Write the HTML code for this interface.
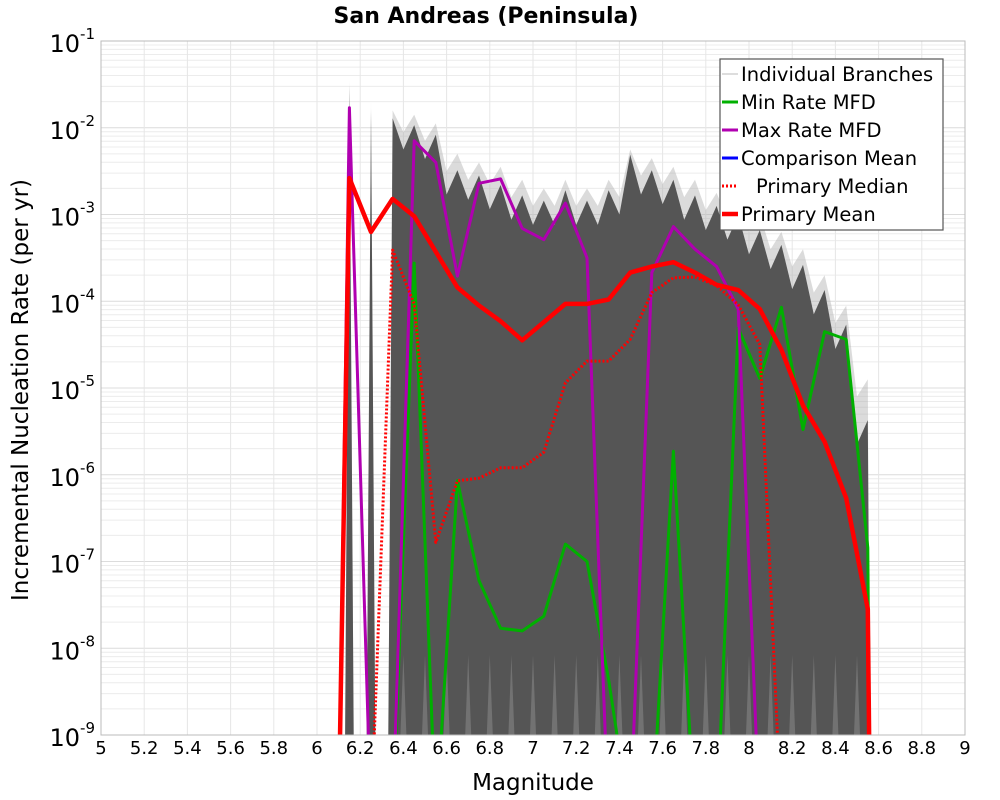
<!DOCTYPE html>
<html><head><meta charset="utf-8"><style>
html,body{margin:0;padding:0;background:#fff;}
svg{display:block;font-family:"DejaVu Sans","Liberation Sans",sans-serif;}
</style></head><body>
<svg id="chart" width="1000" height="800" viewBox="0 0 1000 800" xmlns="http://www.w3.org/2000/svg">
<defs><clipPath id="plotclip"><rect x="101" y="41" width="864" height="694"/></clipPath></defs>
<text x="486" y="23" text-anchor="middle" font-size="22" font-weight="bold">San Andreas (Peninsula)</text>
<g id="grid"></g>
<g id="series" clip-path="url(#plotclip)"></g>
<rect x="101" y="41" width="864" height="694" fill="none" stroke="#bbb" stroke-width="1"/>
<g id="axes"></g>
<text x="533" y="790" text-anchor="middle" font-size="23">Magnitude</text>
<text transform="translate(28,390) rotate(-90)" text-anchor="middle" font-size="23">Incremental Nucleation Rate (per yr)</text>
<g id="legend">
<rect x="720" y="59" width="223" height="171" fill="#fff" stroke="#555" stroke-width="1.2"/>
</g>
</svg>
<script>
const mags = [6.15,6.25,6.35,6.45,6.55,6.65,6.75,6.85,6.95,7.05,7.15,7.25,7.35,7.45,7.55,7.65,7.75,7.85,7.95,8.05,8.15,8.25,8.35,8.45,8.55];
// log10 rates; -12 means below plot
const primaryMean = [-2.58,-3.20,-2.82,-3.02,-3.43,-3.84,-4.05,-4.23,-4.45,-4.24,-4.03,-4.03,-3.98,-3.67,-3.60,-3.55,-3.67,-3.81,-3.87,-4.09,-4.56,-5.20,-5.62,-6.27,-7.55];
const primaryMedian = [-12,-12,-3.41,-4.03,-6.78,-6.07,-6.04,-5.92,-5.92,-5.74,-4.94,-4.69,-4.69,-4.44,-3.90,-3.73,-3.72,-3.82,-4.04,-4.50,-12,-12,-12,-12,-12];
const minRate = [-12,-12,-12,-3.56,-12,-6.07,-7.22,-7.77,-7.80,-7.63,-6.80,-7.00,-8.36,-12,-12,-5.73,-12,-12,-4.31,-4.89,-4.07,-5.48,-4.35,-4.44,-6.84];
const maxRate = [-1.77,-12,-12,-2.15,-2.40,-3.71,-2.64,-2.59,-3.16,-3.29,-2.87,-3.50,-12,-12,-3.67,-3.14,-3.40,-3.60,-4.09,-12,-12,-12,-12,-12,-12];
const branchTop = [-1.51,-1.80,-1.89,-1.97,-2.08,-2.49,-2.55,-2.66,-2.78,-2.84,-2.72,-2.84,-2.72,-2.31,-2.49,-2.60,-2.78,-2.90,-3.01,-3.18,-3.35,-3.58,-3.87,-4.27,-5.37];
const branchHalo = [-1.45,-1.70,-1.80,-1.85,-1.95,-2.30,-2.40,-2.45,-2.60,-2.70,-2.60,-2.70,-2.60,-2.25,-2.35,-2.45,-2.60,-2.75,-2.85,-3.00,-3.20,-3.40,-3.70,-4.05,-4.90];
const xTicks = [5,5.2,5.4,5.6,5.8,6,6.2,6.4,6.6,6.8,7,7.2,7.4,7.6,7.8,8,8.2,8.4,8.6,8.8,9];
const yDecades = [-1,-2,-3,-4,-5,-6,-7,-8,-9];

const NS="http://www.w3.org/2000/svg";
const X0=101,X1=965,Y0=41,Y1=735;
const xs = m => X0+(m-5)/(9-5)*(X1-X0);
const ys = l => Y0+(-1-l)/8*(Y1-Y0);
function mk(tag,attrs,parent){const e=document.createElementNS(NS,tag);for(const k in attrs)e.setAttribute(k,attrs[k]);parent.appendChild(e);return e;}
const grid=document.getElementById('grid'),axes=document.getElementById('axes'),ser=document.getElementById('series'),leg=document.getElementById('legend');

for(const d of yDecades){
  if(d>-9){for(let k=2;k<=9;k++){const y=ys(d-1+Math.log10(k));
    const g=mk('line',{x1:X0,x2:X1,y1:y,y2:y,stroke:'#ececec','stroke-width':1},grid);
    
    }}
  const y=ys(d);
  const g=mk('line',{x1:X0,x2:X1,y1:y,y2:y,stroke:'#dcdcdc','stroke-width':1},grid);
  
  
  const t=mk('text',{x:X0-6,y:y+11,'text-anchor':'end','font-size':24},axes);
  
  
  t.textContent='10';
  const s=mk('tspan',{dy:-13,'font-size':15},t);s.textContent=String(d);
}
for(const m of xTicks){
  const x=xs(m);
  const g=mk('line',{x1:x,x2:x,y1:Y0,y2:Y1,stroke:'#e6e6e6','stroke-width':1},grid);
  
  
  const t=mk('text',{x:x,y:754,'text-anchor':'middle','font-size':18},axes);
  
  
  t.textContent=String(m);
}

function envelope(vals,fill,op,dip){
  let pts=[];
  const n=mags.length;
  pts.push([xs(mags[0]-0.04),Y1+5]);
  for(let i=0;i<n;i++){
    const m=mags[i];
    if(i<2){
      pts.push([xs(m-0.02),Y1+5]);pts.push([xs(m),ys(vals[i])]);pts.push([xs(m+0.02),Y1+5]);
    } else {
      if(i===2)pts.push([xs(m-0.02),Y1+5]);
      pts.push([xs(m),ys(vals[i])]);
      if(i<n-1){const v=Math.min(vals[i],vals[i+1])-dip;pts.push([xs(m+0.05),ys(v)]);}
    }
  }
  pts.push([xs(mags[n-1]+0.01),Y1+5]);
  return mk('polygon',{points:pts.map(p=>p.join(',')).join(' '),fill:fill,'fill-opacity':op},ser);
}
const halo=envelope(branchHalo,'#b0b0b0',0.45,0.2);


const mass=envelope(branchTop,'#555555',1,0.28);


for(let i=2;i<mags.length-1;i++){
  const x=xs(mags[i]+0.05);
  const g=mk('polygon',{points:`${x-3},${Y1} ${x},${Y1-80} ${x+3},${Y1}`,fill:'#909090','fill-opacity':0.5},ser);
  
  
}

function seriesPath(vals,color,w,dash,name){
  let d='';
  vals.forEach((v,i)=>{const x=xs(mags[i]),y=ys(Math.max(v,-10));d+=(i?'L':'M')+x.toFixed(1)+','+y.toFixed(1);});
  const first=xs(mags[0]-0.05);
  d='M'+first.toFixed(1)+','+ys(-10).toFixed(1)+'L'+d.slice(1);
  const last=mags[mags.length-1];
  d+='L'+xs(last+0.01).toFixed(1)+','+ys(-10).toFixed(1);
  const p=mk('path',{d:d,fill:'none',stroke:color,'stroke-width':w,'stroke-linejoin':'round'},ser);
  if(dash)p.setAttribute('stroke-dasharray',dash);
  
  
}
seriesPath(minRate,'#00b000',3,null,'min-rate-line');
seriesPath(maxRate,'#b000b0',3,null,'max-rate-line');
seriesPath(primaryMedian,'#ff0000',3,'2,2','primary-median-line');
seriesPath(primaryMean,'#ff0000',4.5,null,'primary-mean-line');

const legItems=[['Individual Branches','#bbbbbb',1,null],['Min Rate MFD','#00b000',3,null],['Max Rate MFD','#b000b0',3,null],['Comparison Mean','#0000ff',3,null],['Primary Median','#ff0000',3,'2,2'],['Primary Mean','#ff0000',4.5,null]];
legItems.forEach((it,i)=>{
  const y=74+i*28;
  const l=mk('line',{x1:722,x2:738,y1:y,y2:y,stroke:it[1],'stroke-width':it[2]},leg);
  if(it[3])l.setAttribute('stroke-dasharray',it[3]);
  
  
  const t=mk('text',{x:it[3]?756:741,y:y+7,'font-size':19.5},leg);
  
  
  t.textContent=it[0];
});
</script>
</body></html>
